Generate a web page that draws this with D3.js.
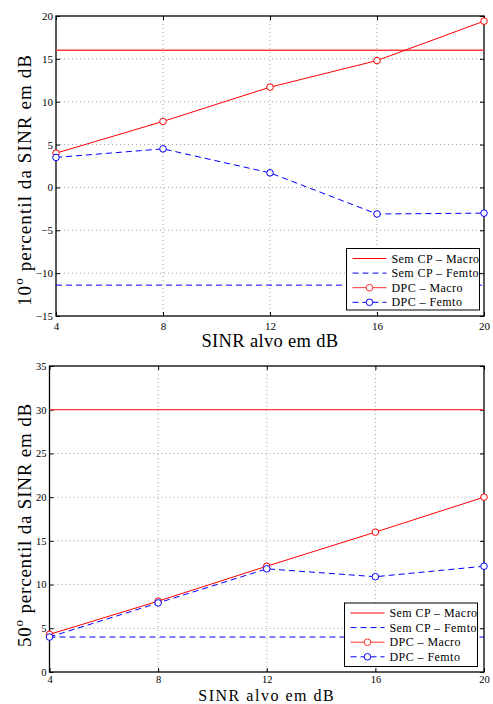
<!DOCTYPE html>
<html>
<head>
<meta charset="utf-8">
<script src="https://cdn.jsdelivr.net/npm/d3@7"></script>
<style>
  body { margin: 0; background: #fff; }
</style>
</head>
<body>
<div id="chart"></div>
<script>
// valores
const sinrAlvo = [4, 8, 12, 16, 20];

// 10o percentil
const p10SemCpMacro = 16.0;
const p10SemCpFemto = -11.4;
const p10DpcMacro = [4.0, 7.7, 11.7, 14.8, 19.4];
const p10DpcFemto = [3.5, 4.5, 1.7, -3.1, -3.0];
const p10YTicks = [-15, -10, -5, 0, 5, 10, 15, 20];

// 50o percentil
const p50SemCpMacro = 30.0;
const p50SemCpFemto = 4.0;
const p50DpcMacro = [4.3, 8.1, 12.1, 16.0, 20.0];
const p50DpcFemto = [4.0, 7.9, 11.8, 10.9, 12.1];
const p50YTicks = [0, 5, 10, 15, 20, 25, 30, 35];

const legendLabels = ['Sem CP \u2013 Macro', 'Sem CP \u2013 Femto', 'DPC \u2013 Macro', 'DPC \u2013 Femto'];

const serif = '"Liberation Serif", "Times New Roman", Times, "DejaVu Serif", serif';

const svg = d3.select('#chart')
    .append('svg')
    .attr('width', 493)
    .attr('height', 704);

// espacamento entre letras para chegar na largura do original
function fitWidth(sel, target) {
    const len = sel.node().getComputedTextLength();
    const n = sel.node().textContent.length;
    const sp = Math.max(0, (target - len) / n);
    sel.attr('letter-spacing', sp);
    return sp;
}

function drawPanel(opts) {
    const x = d3.scaleLinear().domain([4, 20]).range([opts.left, opts.right]);
    const y = d3.scaleLinear().domain(d3.extent(opts.yTicks)).range([opts.bottom, opts.top]);
    const g = svg.append('g');

    // grade pontilhada
    g.selectAll('.gx').data(sinrAlvo.slice(1, -1)).enter()
        .append('line')
        .attr('x1', d => x(d)).attr('x2', d => x(d))
        .attr('y1', opts.top).attr('y2', opts.bottom)
        .attr('stroke', '#888').attr('stroke-width', 0.8)
        .attr('stroke-dasharray', '1,3');
    g.selectAll('.gy').data(opts.yTicks.slice(1, -1)).enter()
        .append('line')
        .attr('x1', opts.left).attr('x2', opts.right)
        .attr('y1', d => y(d)).attr('y2', d => y(d))
        .attr('stroke', '#888').attr('stroke-width', 0.8)
        .attr('stroke-dasharray', '1,3');

    // eixos (ticks para dentro, como no MATLAB)
    const fmt = d3.format('d');
    g.append('g').attr('transform', `translate(0,${opts.bottom})`)
        .call(d3.axisBottom(x).tickValues(sinrAlvo).tickSizeInner(-4).tickSizeOuter(0).tickPadding(opts.xTickPad).tickFormat(fmt));
    g.append('g').attr('transform', `translate(0,${opts.top})`)
        .call(d3.axisTop(x).tickValues(sinrAlvo).tickSizeInner(-4).tickSizeOuter(0).tickFormat(''));
    g.append('g').attr('transform', `translate(${opts.left},0)`)
        .call(d3.axisLeft(y).tickValues(opts.yTicks).tickSizeInner(-4).tickSizeOuter(0).tickPadding(3).tickFormat(fmt));
    g.append('g').attr('transform', `translate(${opts.right},0)`)
        .call(d3.axisRight(y).tickValues(opts.yTicks).tickSizeInner(-4).tickSizeOuter(0).tickFormat(''));
    g.selectAll('.domain').remove();
    g.selectAll('.tick line').attr('stroke', '#000').attr('stroke-width', 1);
    g.selectAll('.tick text')
        .attr('font-family', serif)
        .attr('font-size', opts.tickFs)
        .attr('fill', '#000');

    g.append('rect')
        .attr('x', opts.left).attr('y', opts.top)
        .attr('width', opts.right - opts.left).attr('height', opts.bottom - opts.top)
        .attr('fill', 'none').attr('stroke', '#000').attr('stroke-width', 1.3);

    // linhas de referencia sem CP
    g.append('line')
        .attr('x1', x(4)).attr('x2', x(20))
        .attr('y1', y(opts.semMacro)).attr('y2', y(opts.semMacro))
        .attr('stroke', '#ff3b3b').attr('stroke-width', opts.semMacroWidth);
    g.append('line')
        .attr('x1', x(4)).attr('x2', x(20))
        .attr('y1', y(opts.semFemto)).attr('y2', y(opts.semFemto))
        .attr('stroke', '#0000ff').attr('stroke-width', 1)
        .attr('stroke-dasharray', '6,4');

    const line = d3.line().x((d, i) => x(sinrAlvo[i])).y(d => y(d));
    g.append('path').datum(opts.dpcMacro)
        .attr('d', line).attr('fill', 'none')
        .attr('stroke', '#ff0000').attr('stroke-width', 1);
    g.append('path').datum(opts.dpcFemto)
        .attr('d', line).attr('fill', 'none')
        .attr('stroke', '#0000ff').attr('stroke-width', 1)
        .attr('stroke-dasharray', '6,4');

    g.selectAll('.mk-macro').data(opts.dpcMacro).enter()
        .append('circle')
        .attr('cx', (d, i) => x(sinrAlvo[i])).attr('cy', d => y(d))
        .attr('r', 3.3).attr('fill', '#fff')
        .attr('stroke', '#ff0000').attr('stroke-width', 1);
    g.selectAll('.mk-femto').data(opts.dpcFemto).enter()
        .append('circle')
        .attr('cx', (d, i) => x(sinrAlvo[i])).attr('cy', d => y(d))
        .attr('r', 3.3).attr('fill', '#fff')
        .attr('stroke', '#0000ff').attr('stroke-width', 1);

    // legenda
    const lg = g.append('g');
    lg.append('rect')
        .attr('x', opts.legX).attr('y', opts.legY)
        .attr('width', 133).attr('height', opts.legH)
        .attr('fill', '#fff').attr('stroke', '#000').attr('stroke-width', 1);
    const styles = [
        { color: '#ff0000', dash: null, marker: false },
        { color: '#0000ff', dash: '6,4', marker: false },
        { color: '#ff3030', dash: null, marker: true },
        { color: '#0000ff', dash: '6,4', marker: true }
    ];
    let legSpacing = null;
    legendLabels.forEach((lab, i) => {
        const ry = opts.legY + 10 + i * 14.6;
        const s = styles[i];
        lg.append('line')
            .attr('x1', opts.legX + 6).attr('x2', opts.legX + 40)
            .attr('y1', ry).attr('y2', ry)
            .attr('stroke', s.color).attr('stroke-width', 1)
            .attr('stroke-dasharray', s.dash);
        if (s.marker) {
            lg.append('circle')
                .attr('cx', opts.legX + 23).attr('cy', ry).attr('r', 3.3)
                .attr('fill', '#fff').attr('stroke', s.color).attr('stroke-width', 1);
        }
        const t = lg.append('text')
            .attr('x', opts.legX + 45).attr('y', ry + 4)
            .attr('font-family', serif)
            .attr('font-size', 12)
            .text(lab);
        if (legSpacing === null) legSpacing = fitWidth(t, 88);
        else t.attr('letter-spacing', legSpacing);
    });

    // titulos dos eixos
    const xl = g.append('text')
        .attr('x', (opts.left + opts.right) / 2).attr('y', opts.bottom + opts.xLabelDy)
        .attr('text-anchor', 'middle')
        .attr('font-family', serif)
        .attr('font-size', opts.xLabelFs)
        .text('SINR alvo em dB');
    fitWidth(xl, 137);

    const yl = g.append('text')
        .attr('transform', `translate(${opts.yLabelX},${opts.yLabelCy}) rotate(-90)`)
        .attr('text-anchor', 'middle')
        .attr('font-family', serif)
        .attr('font-size', 19);
    yl.append('tspan').text(opts.yLabelNum);
    yl.append('tspan').attr('dy', -8).attr('font-size', 13).text('o');
    yl.append('tspan').attr('dy', 8).text(' percentil da SINR em dB');
    fitWidth(yl, opts.yLabelLen);
}

drawPanel({
    left: 56, right: 484, top: 16, bottom: 316,
    yTicks: p10YTicks,
    semMacro: p10SemCpMacro, semFemto: p10SemCpFemto, semMacroWidth: 1.6,
    dpcMacro: p10DpcMacro, dpcFemto: p10DpcFemto,
    legX: 346.5, legY: 248.5, legH: 61.5,
    tickFs: 11, xTickPad: 6.5,
    xLabelDy: 31, xLabelFs: 18.5,
    yLabelX: 31, yLabelCy: 180, yLabelLen: 252, yLabelNum: '10'
});

drawPanel({
    left: 49.5, right: 484, top: 366, bottom: 672,
    yTicks: p50YTicks,
    semMacro: p50SemCpMacro, semFemto: p50SemCpFemto, semMacroWidth: 1.2,
    dpcMacro: p50DpcMacro, dpcFemto: p50DpcFemto,
    legX: 344.5, legY: 603, legH: 63.5,
    tickFs: 10.5, xTickPad: 4,
    xLabelDy: 28.5, xLabelFs: 16,
    yLabelX: 31, yLabelCy: 525, yLabelLen: 244, yLabelNum: '50'
});
</script>
</body>
</html>
